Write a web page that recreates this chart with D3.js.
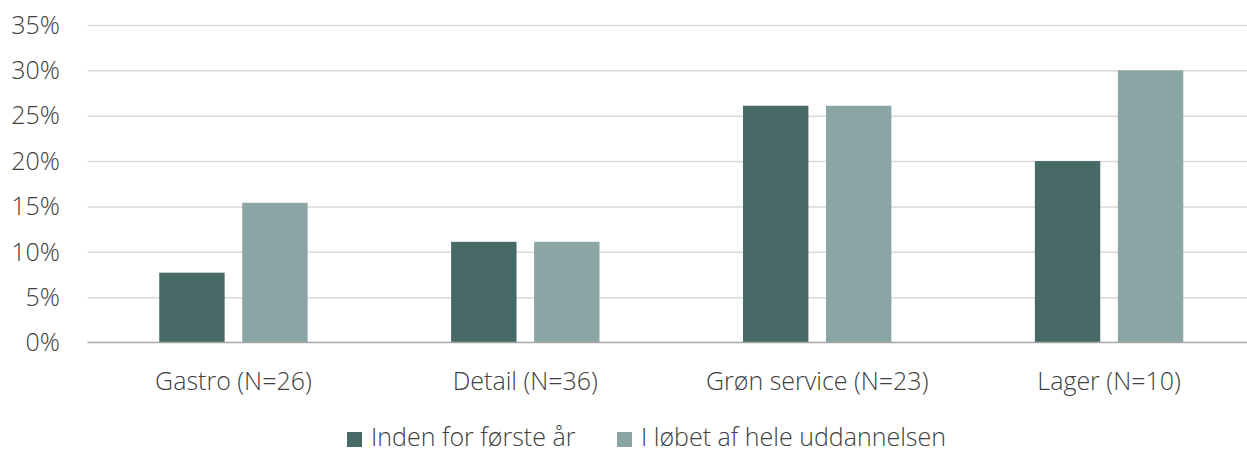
<!DOCTYPE html>
<html>
<head>
<meta charset="utf-8">
<script src="https://cdn.jsdelivr.net/npm/d3@7"></script>
<style>
  body { margin: 0; background: #fff; }
  svg { display: block; font-family: "Segoe UI", "Open Sans", sans-serif; font-weight: 300; }
  .grid line { stroke: #d9d9d9; stroke-width: 1.5; }
  .grid path { display: none; }
  text { fill: #404040; }
</style>
</head>
<body>
<div id="chart"></div>
<script>

// data
var categories = ["Gastro (N=26)", "Detail (N=36)", "Grøn service (N=23)", "Lager (N=10)"];
var seriesNames = ["Inden for første år", "I løbet af hele uddannelsen"];
var firstYear = [0.077, 0.111, 0.261, 0.20];
var wholeEducation = [0.154, 0.111, 0.261, 0.30];
var yTicks = [0, 0.05, 0.10, 0.15, 0.20, 0.25, 0.30, 0.35];

var colors = ["#476a67", "#8aa5a4"];

var width = 1247, height = 452;
var margin = {top: 25, right: -8, bottom: 109.5, left: 87.5};
var innerW = width - margin.left - margin.right,
    innerH = height - margin.top - margin.bottom;

var svg = d3.select("#chart").append("svg")
  .attr("width", width)
  .attr("height", height);

var g = svg.append("g")
  .attr("transform", "translate(" + margin.left + "," + margin.top + ")");

var x = d3.scaleBand()
  .domain(categories)
  .range([0, innerW])
  .paddingInner(0)
  .paddingOuter(0);

var groupW = 148.4;
var x1 = d3.scaleBand()
  .domain(d3.range(seriesNames.length))
  .range([(x.bandwidth() - groupW) / 2, (x.bandwidth() + groupW) / 2])
  .paddingInner(0.212);

var y = d3.scaleLinear()
  .domain([0, 0.35])
  .range([innerH, 0]);

// gridlines
g.append("g")
  .attr("class", "grid")
  .call(d3.axisLeft(y).tickValues(yTicks.slice(1)).tickSize(-innerW).tickFormat(""));

// y labels
g.selectAll(".ylab")
  .data(yTicks)
  .enter().append("text")
  .attr("class", "ylab")
  .attr("x", 60 - margin.left)
  .attr("y", function(d) { return y(d); })
  .attr("dy", "0.35em")
  .attr("text-anchor", "end")
  .style("font-size", "25px")
  .text(d3.format(".0%"));

// bars
var data = categories.map(function(c, i) { return [firstYear[i], wholeEducation[i]]; });

var grp = g.selectAll(".cat")
  .data(data)
  .enter().append("g")
  .attr("class", "cat")
  .attr("transform", function(d, i) { return "translate(" + x(categories[i]) + ",0)"; });

grp.selectAll("rect")
  .data(function(d) { return d; })
  .enter().append("rect")
  .attr("x", function(d, i) { return x1(i); })
  .attr("width", x1.bandwidth())
  .attr("y", function(d) { return y(d); })
  .attr("height", function(d) { return innerH - y(d); })
  .attr("fill", function(d, i) { return colors[i]; });

// baseline
g.append("line")
  .attr("x1", 0).attr("x2", innerW)
  .attr("y1", innerH).attr("y2", innerH)
  .attr("stroke", "#a6a6a6")
  .attr("stroke-width", 1.5);

// category labels
g.selectAll(".xlab")
  .data(categories)
  .enter().append("text")
  .attr("class", "xlab")
  .attr("x", function(d) { return x(d) + x.bandwidth() / 2; })
  .attr("y", 390 - margin.top)
  .attr("text-anchor", "middle")
  .style("font-size", "25px")
  .text(function(d) { return d; });

// legend
var legendX = [347, 617];
var legend = svg.selectAll(".legend")
  .data(seriesNames)
  .enter().append("g")
  .attr("class", "legend")
  .attr("transform", function(d, i) { return "translate(" + legendX[i] + ",432)"; });

legend.append("rect")
  .attr("width", 15)
  .attr("height", 15)
  .attr("fill", function(d, i) { return colors[i]; });

legend.append("text")
  .attr("x", 24)
  .attr("y", 14)
  .style("font-size", "25px")
  .text(function(d) { return d; });

</script>
</body>
</html>
